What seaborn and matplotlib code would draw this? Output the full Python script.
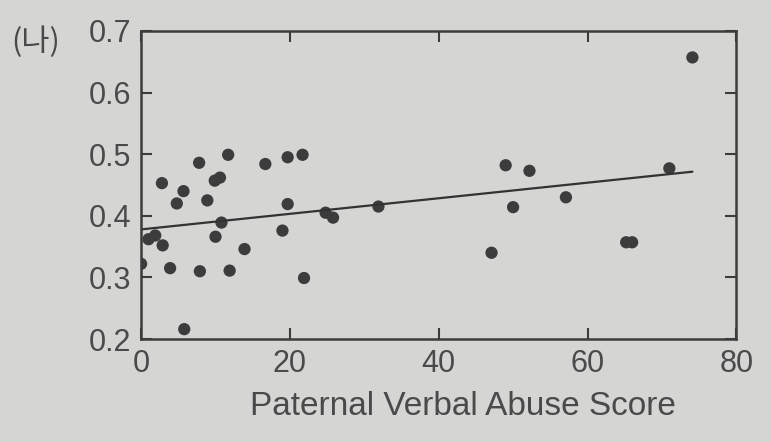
# Scatter of paternal verbal abuse score vs. value, with a fitted line
import numpy as np
import pandas as pd
import seaborn as sns
import matplotlib.pyplot as plt

# %%
# values
abuse_score = [0.0, 1.0, 1.9, 2.9, 2.8, 3.9, 4.8, 5.7, 5.8, 7.8, 7.9, 8.9,
               9.9, 10.6, 10.0, 10.8, 11.7, 11.9, 13.9, 16.7, 19.0, 19.7,
               19.7, 21.7, 21.9, 24.8, 25.8, 31.9, 47.1, 49.0, 50.0, 52.2,
               57.1, 65.2, 66.0, 71.0, 74.1]
value = [0.322, 0.362, 0.368, 0.352, 0.453, 0.315, 0.420, 0.440, 0.216,
         0.486, 0.310, 0.425, 0.457, 0.462, 0.366, 0.389, 0.499, 0.311,
         0.346, 0.484, 0.376, 0.419, 0.495, 0.499, 0.299, 0.405, 0.397,
         0.415, 0.340, 0.482, 0.414, 0.473, 0.430, 0.357, 0.357, 0.477,
         0.657]
xticks = [0, 20, 40, 60, 80]
yticks = [0.2, 0.3, 0.4, 0.5, 0.6, 0.7]

data = pd.DataFrame({'score': abuse_score, 'value': value})

# %%
sns.set_theme(style="ticks")
plt.rcParams['font.family'] = ['Liberation Sans', 'Noto Sans CJK KR', 'DejaVu Sans']
bg = '#d5d5d3'
ink = '#3c3c3c'
txt = '#4a4a4a'

fig = plt.figure(figsize=(7.71, 4.42), dpi=100, facecolor=bg)
ax = fig.add_axes([0.183, 0.233, 0.772, 0.697], facecolor=bg)

sns.regplot(data=data, x='score', y='value', ax=ax, ci=None, truncate=True,
            scatter_kws=dict(s=78, color=ink, edgecolor='none', alpha=1),
            line_kws=dict(color='#333333', lw=1.6))

ax.set(xlim=(0, 80), ylim=(0.2, 0.7), xticks=xticks, yticks=yticks, ylabel='')
ax.set_xticklabels([str(t) for t in xticks])
ax.set_yticklabels([f'{t:.1f}' for t in yticks])
ax.tick_params(direction='in', length=8, width=1.5, colors=ink,
               labelsize=22, labelcolor=txt, top=True, right=True, pad=7)
ax.set_xlabel('Paternal Verbal Abuse Score', fontsize=24, color=txt)
ax.xaxis.set_label_coords(0.54, -0.17)
for sp in ax.spines.values():
    sp.set_visible(True)
    sp.set_linewidth(1.8)
    sp.set_color(ink)

fig.text(0.015, 0.905, '(나)', fontsize=22, color=txt,
         family=['Noto Sans CJK KR', 'DejaVu Sans'], va='center')

fig.savefig("out.png", dpi=100, facecolor=bg)
